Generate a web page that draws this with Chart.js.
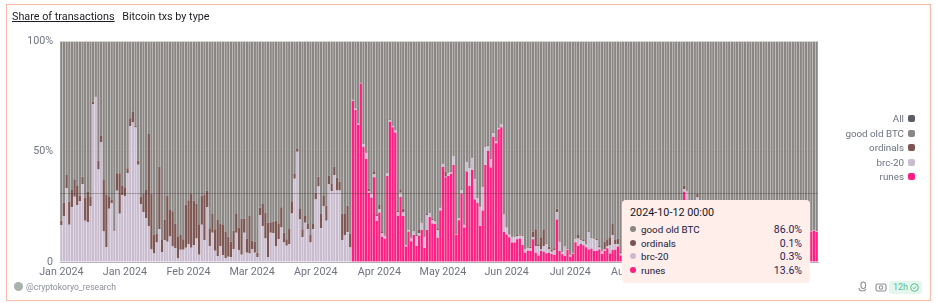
<!DOCTYPE html>
<html>
<head>
<meta charset="utf-8">
<title>Share of transactions</title>
<script src="https://cdn.jsdelivr.net/npm/chart.js@4"></script>
<style>
  html, body { margin: 0; padding: 0; background: #fff; }
  body { width: 937px; height: 303px; overflow: hidden; position: relative; font-family: Roboto, sans-serif; }
  #card { position: absolute; left: 6px; top: 4px; width: 923px; height: 295px; border: 1px solid #fdb8a8; }
  #chart { position: absolute; left: 0; top: 0; }
  #title { position: absolute; left: 12px; top: 9px; font-size: 10.8px; line-height: 16px; color: #1c1c22; white-space: nowrap; }
  #title u { margin-right: 5px; }
  #legend { position: absolute; right: 22px; top: 112px; text-align: right; font-size: 9.8px; color: #6b7280; }
  #legend div { height: 14.6px; line-height: 14.6px; white-space: nowrap; }
  #legend i { display: inline-block; width: 7px; height: 7px; border-radius: 2px; margin-left: 4px; }
  #tip { position: absolute; left: 622px; top: 200px; width: 188px; height: 83px; background: #ffeeea; border-radius: 4px; color: #20203a; font-size: 9.8px; }
  #tip .when { position: absolute; left: 8px; top: 5px; font-size: 10.8px; line-height: 16px; color: #15151f; }
  #tip .row { position: absolute; left: 8px; right: 8px; height: 14px; line-height: 14px; }
  #tip .row i { display: inline-block; width: 6px; height: 6px; border-radius: 50%; margin-right: 5px; vertical-align: 1px; }
  #tip .row b { position: absolute; right: 0; font-weight: 400; font-size: 10.5px; color: #1f1c5c; }
  #mark { position: absolute; left: 26px; top: 280px; font-size: 8.6px; line-height: 14px; color: #8a8f98; }
  #avatar { position: absolute; left: 14px; top: 282px; width: 9px; height: 9px; border-radius: 50%; background: #a9b2ad; }
  #badge { position: absolute; left: 889px; top: 281px; width: 33px; height: 13px; background: #e4f7ef; border-radius: 3px; color: #5dbb90; font-size: 9px; line-height: 13px; }
  #badge span { margin-left: 4px; }
  #badge svg { position: absolute; right: 3px; top: 2px; }
  .icon { position: absolute; top: 281px; }
</style>
</head>
<body>
<div id="card"></div>
<canvas id="chart" width="937" height="303"></canvas>
<div id="title"><u>Share of transactions</u> Bitcoin txs by type</div>
<div id="legend"></div>
<div id="tip"></div>
<div id="avatar"></div>
<div id="mark">@cryptokoryo_research</div>
<svg class="icon" style="left:857px" width="12" height="12" viewBox="0 0 12 12" fill="none" stroke="#8b8f94" stroke-width="1.1"><rect x="4" y="1" width="4.500" height="6.500" rx="2.200"/><path d="M2 7c0 2 1.500 3 3.500 3s3-.8 3.500-2"/></svg>
<svg class="icon" style="left:875px" width="12" height="12" viewBox="0 0 12 12" fill="none" stroke="#8b8f94" stroke-width="1.1"><rect x="1" y="3" width="10" height="7" rx="1.500"/><circle cx="6" cy="6.500" r="1.800"/></svg>
<div id="badge"><span>12h</span><svg width="9" height="9" viewBox="0 0 9 9" fill="none" stroke="#5dbb90" stroke-width="1"><circle cx="4.500" cy="4.500" r="3.800"/><path d="M2.800 4.600l1.200 1.200 2.200-2.400"/></svg></div>
<script>
// share of bitcoin txs per day, % of total, stack order bottom to top
const tickLabels = ['Jan 2024','Jan 2024','Feb 2024','Mar 2024','Apr 2024','Apr 2024','May 2024','Jun 2024','Jul 2024','Aug 2024','Aug 2024','Sep 2024'];
const yTicks = [0, 50, 100];
const hoverLevel = 31.4;

const runes = [
  0,0,0,0,0,0,0,0,0,0, 0,0,0,0,0,0,0,0,0,0, 0,0,0,0,0,0,0,0,0,0, 0,0,0,0,0,0,0,0,0,0,
  0,0,0,0,0,0,0,0,0,0, 0,0,0,0,0,0,0,0,0,0, 0,0,0,0,0,0,0,0,0,0, 0,0,0,0,0,0,0,0,0,0,
  0,0,0,0,0,0,0,0,0,0, 0,0,0,0,0,0,0,0,0,0, 0,0,0,0,0,0,0,0,0,0,
  73,68.9,62.1,81,52.3,46.7,31.4,29.3,38.4,18.6,
  22.5,11.5,10.6,39,63.6,61.1,58.7,21,29.5,20.9,
  7,13.8,9.4,12.2,7.3,11.9,14.5,6.3,14.5,20.4,
  17.5,17.2,11,23.4,43.1,38.4,39,39.9,44,12.2,
  18.9,31.1,15.6,41,34.5,41.7,28.4,26.9,16.3,23.3,
  44,50.5,42.9,56.8,53.8,60.2,61.1,13.6,12.5,11.2,
  8.8,8.8,10.3,10.7,7.7,4.2,5.1,5.1,10.3,4.2,
  3,5.1,4.7,3.9,4.2,3.6,3.2,19.3,5,3.5,
  2.7,5.4,2.4,3.6,9,7.3,8.2,7.6,6.7,5.7,
  6,5,5.1,5.7,3.6,5.1,6.2,3.9,5.4,5.5,
  7,3,6.2,7.1,8.4,6.8,5.9,7.5,9.2,8.1,
  6.4,5.7,7.9,10.3,9.6,8.3,11.2,12.4,10.1,14.2,
  16.8,13.5,18.1,15.4,20.7,31.9,28.2,19.6,17.3,21.4,
  26.3,18.5,15.2,16.6,13.8,12.5,14.9,11.7,10.4,12.8,
  9.9,8.7,11.3,13.6,10.8,9.4,8.2,10.6,12.1,14.5,
  11.9,9.7,10.2,8.9,11.4,13.2,15.7,12.6,10.5,9.3,
  11.8,14.1,16.3,13.9,12.2,10.7,11.5,13.4,15.2,12.8,
  11.6,13.1,14.6,13.8,14.2,13.6
];
const brc20 = [
  16.8,20.9,33.4,16.9,24.8,29.6,25.9,27.7,35.4,18.7,
  18,25.4,71.7,75,42,54.4,13.8,6.7,24.2,26.7,
  14.2,32.3,21.9,30.4,29.9,40.2,61.7,63.3,61,44.1,
  26.3,22.7,19.8,16.3,5.7,3.9,8.9,14.8,4.5,10,
  9.2,11.6,7,6.2,1.8,5.6,5.6,6.5,8.2,6.5,
  7.7,10.7,3.3,16.9,10,24.9,7.3,13.3,5.1,2.7,
  7.3,3.2,1.8,2.4,2.3,5.9,13.3,5.4,3.3,13.3,
  4.2,3.9,5.9,4.2,2.1,21.3,16.3,10.7,2.1,13.3,
  13,7,10.4,15.7,8.9,7.4,8,22,37.8,50,
  19.3,11.2,17.8,14.8,8.9,14.8,28.4,34.2,15.4,25.4,
  18.7,35.4,32.2,39.5,32.4,32.4,10,12.2,13.5,6.6,
  .5,.6,.6,.2,1.1,2.9,.8,1.4,1.5,2.3,
  1.5,1.5,1.3,1.4,.8,.6,.9,1.7,1.9,1.5,
  .7,.6,1.3,1.6,4.5,1.1,3.3,5.2,6.8,1.7,
  1.5,1.2,3.5,1.2,1.2,.3,1.2,.9,3.8,.3,
  .9,1.6,1.3,4.2,8,5.6,9.1,2,8.5,10.6,
  8,2.1,3.8,1.6,1.1,.6,1.3,7.9,3.1,1.3,
  2.7,2.4,1.5,1.2,4.1,1.5,1.1,1.1,.9,3.1,
  4.3,.6,2.6,4.3,1.5,1.1,2.2,3.4,4.2,1.2,
  4.3,.3,.9,.3,1.3,3.4,1.8,1.8,1.2,7.9,
  4.9,5.3,4.9,.9,1.5,.6,.8,3.8,6.8,2.5,
  1,.9,1.2,1,1.3,2.1,1.4,1.1,1.6,2.4,
  1.2,1.8,.9,1.4,2.2,1.7,1.3,1.9,1.1,2.3,
  1.8,2.6,2,1.5,2.1,1.1,3.8,2.4,3.1,2.5,
  2.9,3.4,2.2,1.9,2.7,1.6,1.2,2.1,1.5,1.8,
  1.3,2.4,1.1,1.7,.9,1.4,1.8,.8,1.2,.9,
  1.6,.7,1.1,1.3,.6,.9,.7,1.2,.5,.8,
  .6,.4,.7,.5,.8,.4,.6,.3,.5,.4,
  .6,.3,.4,.3,.3,.3
];
const ordinals = [
  1.9,6,6.1,10.5,7.9,7.9,8.9,2.3,3.3,10.6,
  13.9,4.2,1,.3,4,3,23.7,23.7,5.3,1.4,
  .6,7.9,18.3,4.1,4,2.3,3.5,4.9,.8,1.9,
  3.3,8.1,12.9,41.7,25.4,8.6,3.8,28.4,5.5,9.3,
  20.8,12,16,11.3,9.5,6.6,4.7,19.5,19.8,24.3,
  20.1,15.6,13.8,13.1,20.4,7.5,8,8.5,9.7,16.3,
  9.9,13.6,12,9.1,6.9,8.3,8.5,10.3,16.2,6.4,
  6.5,17,3.8,5,2.1,3.3,10,11.7,15.7,4.7,
  5.3,11.7,6.8,9.1,4.4,2.9,7,5.5,2.1,1.2,
  4.7,3.6,3.1,2.4,3.3,2.4,3,4.5,6.4,4.5,
  6.8,3.8,3.2,3.7,5.8,4,11.8,9.6,12,6.1,
  .1,.2,.2,.1,.1,.4,1.1,.3,1.2,.7,
  1.9,.9,.5,.3,.3,.1,.3,.4,1.3,1.9,
  .2,.3,.3,.3,.6,1.5,.5,.6,.5,.1,
  .5,.5,.8,.3,.4,2.3,.3,.3,.2,.2,
  .5,.3,.3,.3,.4,.7,.3,.3,.3,.3,
  .3,.3,.3,.4,.3,.1,.3,.3,.3,.5,
  .3,.3,.4,.6,.3,.3,.3,.8,2.6,7.5,
  .7,5.5,7.5,.3,1.3,1,.8,1.5,.5,.3,
  .3,.5,.3,.3,.3,1.5,.3,.6,.3,.3,
  .3,.4,.6,.7,.6,3.5,3.3,3.5,5.3,2,
  2.5,.8,.8,.6,.5,.7,.9,.4,.6,.8,
  .5,.7,.4,.6,.5,.9,.4,.7,.5,.6,
  .8,.6,.7,.5,1,1.5,.4,.8,1.2,.9,
  1.6,.8,.7,.6,.5,.9,.4,.6,.5,.7,
  .4,.6,.5,.3,.4,.6,.3,.4,.2,.3,
  .4,.2,.3,.4,.2,.3,.2,.3,.2,.1,
  .2,.2,.1,.2,.3,.1,.2,.1,.2,.1,
  .2,.1,.1,.1,.1,.1
];
const goodOldBtc = [
  81.3,73.1,60.5,72.6,67.3,62.5,65.2,70,61.3,70.7,
  68.1,70.4,27.3,24.7,54,42.6,62.5,69.6,70.5,71.9,
  85.2,59.8,59.8,65.5,66.1,57.5,34.8,31.8,38.2,54,
  70.4,69.2,67.3,42,68.9,87.5,87.3,56.8,90,80.7,
  70,76.4,77,82.5,88.7,87.8,89.7,74,72,69.2,
  72.2,73.7,82.9,70,69.6,67.6,84.7,78.2,85.2,81,
  82.8,83.2,86.2,88.5,90.8,85.8,78.2,84.3,80.5,80.3,
  89.3,79.1,90.3,90.8,95.8,75.4,73.7,77.6,82.2,82,
  81.7,81.3,82.8,75.2,86.7,89.7,85,72.5,60.1,48.8,
  76,85.2,79.1,82.8,87.8,82.8,68.6,61.3,78.2,70.1,
  74.5,60.8,64.6,56.8,61.8,63.6,78.2,78.2,74.5,87.3,
  26.4,30.3,37.1,18.7,46.5,50,66.7,69,58.9,78.4,
  74.1,86.1,87.6,59.3,35.3,38.2,40.1,76.9,67.3,75.7,
  92.1,85.3,89,85.9,87.6,85.5,81.7,87.9,78.2,77.8,
  80.5,81.1,84.7,75.1,55.3,59,59.5,58.9,52,87.3,
  79.7,67,82.8,54.5,57.1,52,62.2,70.8,74.9,65.8,
  47.7,47.1,53,41.2,44.8,39.1,37.3,78.2,84.1,87,
  88.2,88.5,87.8,87.5,87.9,94,93.5,93,86.2,85.2,
  92,88.8,85.2,91.5,93,94.3,93.8,75.8,90.3,95,
  92.7,93.8,96.4,95.8,89.4,87.8,89.7,90,91.8,86.1,
  88.8,89.3,89.4,92.7,94.3,90.8,89.7,88.8,82.5,90,
  89.5,95.3,91.8,91.3,89.8,90.4,91.8,91,88.6,88.7,
  91.9,91.8,90.8,87.7,87.7,89.1,87.1,85,88.3,82.9,
  80.6,83.3,79.2,82.6,76.2,65.5,67.6,77.2,78.4,75.2,
  69.2,77.3,81.9,80.9,83,85,83.5,85.6,87.6,84.7,
  88.4,88.3,87.1,84.4,87.9,88.6,89.7,88.2,86.5,84.3,
  86.1,89.4,88.4,89.4,87.8,85.6,83.4,85.9,88.8,89.8,
  87.4,85.3,82.9,85.4,86.7,88.8,87.7,86.2,84.1,86.7,
  87.6,86.5,84.9,85.8,85.4,86
];

const seriesNames = ['good old BTC', 'ordinals', 'brc-20', 'runes'];
const seriesColors = ['#8a8684', '#7c5652', '#c9bccf', '#ff1f82'];
const tipDate = '2024-10-12 00:00';
const tipValues = ['86.0%', '0.1%', '0.3%', '13.6%'];

// one category per day, the last bar is the hovered 2024-10-12
const days = runes.map((_, i) => new Date(Date.UTC(2024, 0, 1 + i)).toISOString().slice(0, 10));

function bars(label, values, color) {
  return { label, data: values, backgroundColor: color, barPercentage: 0.86, categoryPercentage: 1, stack: 's' };
}

const hoverLine = {
  id: 'hoverLine',
  afterDatasetsDraw(chart) {
    const { ctx, chartArea, scales } = chart;
    const y = Math.round(scales.y.getPixelForValue(hoverLevel)) + 0.5;
    ctx.save();
    ctx.strokeStyle = 'rgba(50,40,40,0.3)';
    ctx.lineWidth = 1;
    ctx.beginPath();
    ctx.moveTo(chartArea.left, y);
    ctx.lineTo(chartArea.right, y);
    ctx.stroke();
    ctx.restore();
  }
};

function initChart() {
  const tickFont = { family: 'Roboto, sans-serif', size: 10.7 };
  new Chart(document.getElementById('chart').getContext('2d'), {
    type: 'bar',
    data: {
      labels: days,
      datasets: [
        bars('runes', runes, seriesColors[3]),
        bars('brc-20', brc20, seriesColors[2]),
        bars('ordinals', ordinals, seriesColors[1]),
        bars('good old BTC', goodOldBtc, seriesColors[0])
      ]
    },
    plugins: [hoverLine],
    options: {
      responsive: false,
      animation: false,
      layout: { padding: { left: 7, right: 119, top: 41.500, bottom: 0 } },
      plugins: { legend: { display: false }, tooltip: { enabled: false } },
      scales: {
        x: {
          stacked: true,
          afterFit: s => { s.height = 41; },
          border: { color: '#b9b0bd' },
          grid: { display: false, drawTicks: false, tickLength: 0 },
          ticks: {
            autoSkip: false, maxRotation: 0, padding: 4, color: '#6f7480', font: tickFont,
            callback: (v, i) => (i % 24 === 0 ? tickLabels[i / 24] : null)
          }
        },
        y: {
          stacked: true, min: 0, max: 100,
          afterFit: s => { s.width = 53; },
          afterBuildTicks: s => { s.ticks = yTicks.map(v => ({ value: v })); },
          border: { display: false },
          grid: { color: '#e9e9e9', drawTicks: false },
          ticks: {
            padding: 7, color: '#6f7480', font: tickFont,
            callback: v => (v === 0 ? '0' : v + '%')
          }
        }
      }
    }
  });
}

function initLegend() {
  const names = ['All'].concat(seriesNames);
  const colors = ['#5b5e66'].concat(seriesColors);
  document.getElementById('legend').innerHTML = names
    .map((n, i) => `<div>${n}<i style="background:${colors[i]}"></i></div>`).join('');
}

function initTip() {
  let html = `<div class="when">${tipDate}</div>`;
  seriesNames.forEach((n, i) => {
    html += `<div class="row" style="top:${23 + i * 13.5}px"><i style="background:${seriesColors[i]}"></i>${n}<b>${tipValues[i]}</b></div>`;
  });
  document.getElementById('tip').innerHTML = html;
}

window.addEventListener('DOMContentLoaded', () => {
  initChart();
  initLegend();
  initTip();
});
</script>
</body>
</html>
